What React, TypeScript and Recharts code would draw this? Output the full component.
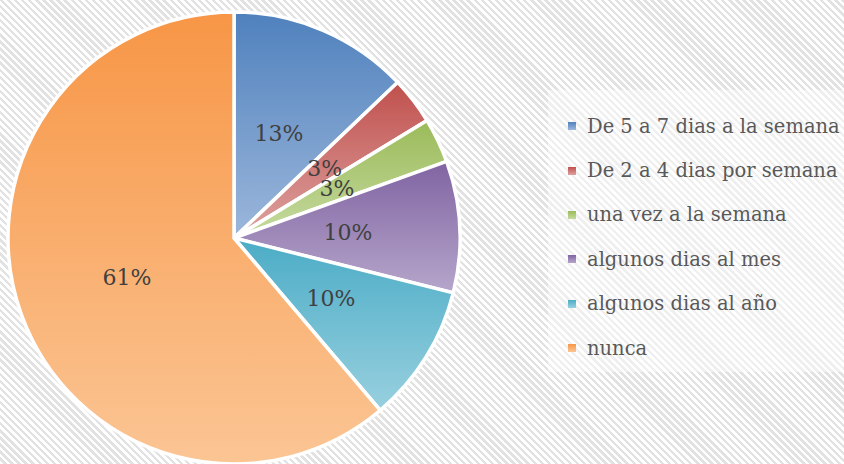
import React from 'react';
import { PieChart, Pie, Cell, Legend } from 'recharts';

const categories = [
  'De 5 a 7 dias a la semana',
  'De 2 a 4 dias por semana',
  'una vez a la semana',
  'algunos dias al mes',
  'algunos dias al año',
  'nunca',
];
const values = [12.9, 3.4, 3.2, 9.4, 9.9, 61.2];
const percentLabels = ['13%', '3%', '3%', '10%', '10%', '61%'];
const topColors = ['#4f81bd', '#c0504d', '#9bbb59', '#8064a2', '#4bacc6', '#f79646'];
const bottomColors = ['#9cb7db', '#dda3a1', '#c6daa1', '#b6a6cb', '#98d0df', '#fbc594'];

const data = categories.map((name, i) => ({ name, value: values[i], label: percentLabels[i] }));

const RAD = Math.PI / 180;
const renderLabel = (props: any) => {
  const { cx, cy, midAngle, outerRadius, index } = props;
  const r = outerRadius * 0.505;
  const x = cx + r * Math.cos(-midAngle * RAD);
  const y = cy + r * Math.sin(-midAngle * RAD);
  return (
    <text
      x={x}
      y={y}
      fill="#404040"
      fontFamily="'DejaVu Serif', serif"
      fontSize={22}
      textAnchor="middle"
      dominantBaseline="central"
    >
      {percentLabels[index]}
    </text>
  );
};

const LegendContent = (props: any) => {
  const { payload } = props;
  const items = categories.map((c) => (payload || []).find((p: any) => p.value === c) || { value: c });
  return (
    <div style={{ padding: '14px 0 14px 20px' }}>
      {items.map((p: any, i: number) => (
        <div
          key={i}
          style={{
            display: 'flex',
            alignItems: 'center',
            height: 44.4,
            fontFamily: "'DejaVu Serif', serif",
            fontSize: 19.5,
            color: '#595959',
            whiteSpace: 'nowrap',
          }}
        >
          <span
            style={{
              display: 'inline-block',
              width: 8,
              height: 8,
              marginRight: 11,
              background: `linear-gradient(${topColors[i]}, ${bottomColors[i]})`,
            }}
          />
          {p.value}
        </div>
      ))}
    </div>
  );
};

export default function App() {
  return (
    <div
      style={{
        position: 'absolute',
        left: 0,
        top: 0,
        width: 844,
        height: 464,
        background: 'repeating-linear-gradient(45deg, #ffffff 0px, #ffffff 2.6px, #e2e2e2 2.6px, #e2e2e2 5px)',
        overflow: 'hidden',
      }}
    >
      <PieChart width={844} height={464} margin={{ top: 0, right: 0, bottom: 0, left: 0 }}>
        <defs>
          {topColors.map((c, i) => (
            <linearGradient key={i} id={`grad${i}`} x1="0" y1="0" x2="0" y2="1">
              <stop offset="0%" stopColor={c} />
              <stop offset="100%" stopColor={bottomColors[i]} />
            </linearGradient>
          ))}
        </defs>
        <Pie
          data={data}
          dataKey="value"
          nameKey="name"
          cx={234}
          cy={238}
          outerRadius={226}
          startAngle={90}
          endAngle={-270}
          stroke="#ffffff"
          strokeWidth={3.5}
          label={renderLabel}
          labelLine={false}
          isAnimationActive={false}
        >
          {data.map((d, i) => (
            <Cell key={d.name} fill={`url(#grad${i})`} />
          ))}
        </Pie>
        <Legend
          layout="vertical"
          align="right"
          verticalAlign="top"
          content={<LegendContent />}
          wrapperStyle={{
            left: 548,
            top: 90,
            width: 296,
            height: 282,
            background: 'rgba(255,255,255,0.45)',
          }}
        />
      </PieChart>
    </div>
  );
}
